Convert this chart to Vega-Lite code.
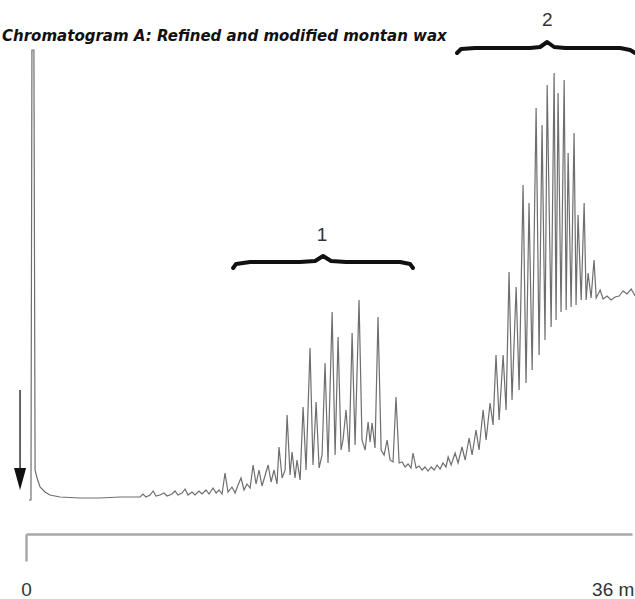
{
  "$schema": "https://vega.github.io/schema/vega-lite/v6.json",
  "autosize": {"type": "none"},
  "padding": {"left": 26, "top": 50, "right": 3, "bottom": 65},
  "width": 606,
  "height": 484,
  "background": "white",
  "config": {"view": {"stroke": null}},
  "title": {
    "text": "Chromatogram A: Refined and modified montan wax",
    "anchor": "start",
    "dx": -12,
    "dy": 42,
    "offset": 8,
    "font": "DejaVu Sans Condensed",
    "fontSize": 16.7,
    "fontStyle": "italic",
    "fontWeight": "bold",
    "color": "#111"
  },
  "datasets": {
    "trace": [
      {"t": 0.18, "r": -3}, {"t": 0.30, "r": -3}, {"t": 0.36, "r": 447}, {"t": 0.48, "r": 447},
      {"t": 0.55, "r": 27}, {"t": 0.67, "r": 19}, {"t": 0.85, "r": 10}, {"t": 1.15, "r": 5},
      {"t": 1.45, "r": 2}, {"t": 2.06, "r": 0}, {"t": 3.27, "r": -1}, {"t": 4.48, "r": -1},
      {"t": 5.70, "r": 0}, {"t": 6.91, "r": 0}, {"t": 7.09, "r": 3}, {"t": 7.27, "r": 0},
      {"t": 7.52, "r": 2}, {"t": 7.70, "r": 6}, {"t": 7.88, "r": 1}, {"t": 8.12, "r": 2},
      {"t": 8.36, "r": 4}, {"t": 8.55, "r": 1}, {"t": 8.85, "r": 3}, {"t": 9.03, "r": 6},
      {"t": 9.21, "r": 2}, {"t": 9.45, "r": 4}, {"t": 9.64, "r": 8}, {"t": 9.82, "r": 2},
      {"t": 10.06, "r": 5}, {"t": 10.24, "r": 2}, {"t": 10.48, "r": 6}, {"t": 10.67, "r": 3},
      {"t": 10.91, "r": 7}, {"t": 11.09, "r": 3}, {"t": 11.33, "r": 9}, {"t": 11.52, "r": 4},
      {"t": 11.70, "r": 7}, {"t": 11.88, "r": 3}, {"t": 12.06, "r": 24}, {"t": 12.24, "r": 5},
      {"t": 12.48, "r": 10}, {"t": 12.67, "r": 4}, {"t": 12.85, "r": 12}, {"t": 13.03, "r": 19},
      {"t": 13.21, "r": 7}, {"t": 13.39, "r": 13}, {"t": 13.58, "r": 9}, {"t": 13.76, "r": 32},
      {"t": 13.94, "r": 13}, {"t": 14.12, "r": 27}, {"t": 14.30, "r": 11}, {"t": 14.48, "r": 21},
      {"t": 14.67, "r": 32}, {"t": 14.85, "r": 15}, {"t": 15.03, "r": 27}, {"t": 15.21, "r": 13},
      {"t": 15.33, "r": 50}, {"t": 15.52, "r": 19}, {"t": 15.70, "r": 27}, {"t": 15.82, "r": 82},
      {"t": 16.00, "r": 22}, {"t": 16.12, "r": 45}, {"t": 16.30, "r": 19}, {"t": 16.42, "r": 37},
      {"t": 16.61, "r": 17}, {"t": 16.79, "r": 90}, {"t": 16.97, "r": 27}, {"t": 17.21, "r": 149},
      {"t": 17.39, "r": 32}, {"t": 17.58, "r": 95}, {"t": 17.76, "r": 29}, {"t": 17.94, "r": 42},
      {"t": 18.12, "r": 134}, {"t": 18.30, "r": 34}, {"t": 18.55, "r": 185}, {"t": 18.73, "r": 42},
      {"t": 18.91, "r": 160}, {"t": 19.09, "r": 47}, {"t": 19.21, "r": 57}, {"t": 19.39, "r": 87},
      {"t": 19.58, "r": 45}, {"t": 19.76, "r": 164}, {"t": 19.94, "r": 52}, {"t": 20.18, "r": 197},
      {"t": 20.36, "r": 57}, {"t": 20.55, "r": 47}, {"t": 20.73, "r": 75}, {"t": 20.85, "r": 55},
      {"t": 20.97, "r": 74}, {"t": 21.15, "r": 49}, {"t": 21.33, "r": 180}, {"t": 21.52, "r": 47},
      {"t": 21.70, "r": 42}, {"t": 21.88, "r": 57}, {"t": 22.06, "r": 37}, {"t": 22.24, "r": 35},
      {"t": 22.42, "r": 100}, {"t": 22.61, "r": 34}, {"t": 22.79, "r": 35}, {"t": 22.97, "r": 30},
      {"t": 23.15, "r": 33}, {"t": 23.33, "r": 29}, {"t": 23.45, "r": 44}, {"t": 23.64, "r": 29},
      {"t": 23.82, "r": 31}, {"t": 24.00, "r": 27}, {"t": 24.18, "r": 30}, {"t": 24.36, "r": 26},
      {"t": 24.55, "r": 30}, {"t": 24.73, "r": 27}, {"t": 24.91, "r": 32}, {"t": 25.09, "r": 28},
      {"t": 25.27, "r": 34}, {"t": 25.45, "r": 30}, {"t": 25.58, "r": 40}, {"t": 25.76, "r": 32},
      {"t": 26.00, "r": 44}, {"t": 26.18, "r": 34}, {"t": 26.42, "r": 50}, {"t": 26.61, "r": 37},
      {"t": 26.85, "r": 59}, {"t": 27.03, "r": 42}, {"t": 27.27, "r": 67}, {"t": 27.45, "r": 47},
      {"t": 27.70, "r": 87}, {"t": 27.88, "r": 57}, {"t": 28.12, "r": 94}, {"t": 28.30, "r": 72},
      {"t": 28.48, "r": 142}, {"t": 28.67, "r": 77}, {"t": 28.91, "r": 142}, {"t": 29.09, "r": 87},
      {"t": 29.27, "r": 225}, {"t": 29.45, "r": 97}, {"t": 29.70, "r": 210}, {"t": 29.88, "r": 107},
      {"t": 30.12, "r": 312}, {"t": 30.30, "r": 114}, {"t": 30.48, "r": 294}, {"t": 30.67, "r": 127},
      {"t": 30.91, "r": 389}, {"t": 31.09, "r": 142}, {"t": 31.27, "r": 372}, {"t": 31.45, "r": 157},
      {"t": 31.58, "r": 412}, {"t": 31.82, "r": 170}, {"t": 32.00, "r": 424}, {"t": 32.12, "r": 177},
      {"t": 32.24, "r": 404}, {"t": 32.42, "r": 185}, {"t": 32.61, "r": 417}, {"t": 32.73, "r": 187},
      {"t": 32.85, "r": 344}, {"t": 33.03, "r": 190}, {"t": 33.21, "r": 364}, {"t": 33.33, "r": 192},
      {"t": 33.45, "r": 282}, {"t": 33.64, "r": 197}, {"t": 33.82, "r": 294}, {"t": 33.94, "r": 197},
      {"t": 34.06, "r": 224}, {"t": 34.24, "r": 199}, {"t": 34.42, "r": 237}, {"t": 34.55, "r": 199},
      {"t": 34.79, "r": 207}, {"t": 34.97, "r": 198}, {"t": 35.21, "r": 201}, {"t": 35.45, "r": 197},
      {"t": 35.70, "r": 200}, {"t": 35.94, "r": 201}, {"t": 36.18, "r": 206}, {"t": 36.42, "r": 203},
      {"t": 36.67, "r": 208}, {"t": 36.91, "r": 201}
    ],
    "braces": [
      {"brace": "1", "t": 12.55, "r": 229}, {"brace": "1", "t": 12.73, "r": 233},
      {"brace": "1", "t": 13.58, "r": 235}, {"brace": "1", "t": 16.61, "r": 235},
      {"brace": "1", "t": 17.52, "r": 236}, {"brace": "1", "t": 18.00, "r": 241},
      {"brace": "1", "t": 18.48, "r": 236}, {"brace": "1", "t": 19.39, "r": 235},
      {"brace": "1", "t": 22.67, "r": 235}, {"brace": "1", "t": 23.27, "r": 233},
      {"brace": "1", "t": 23.45, "r": 229},
      {"brace": "2", "t": 26.12, "r": 444}, {"brace": "2", "t": 26.36, "r": 448},
      {"brace": "2", "t": 27.21, "r": 449}, {"brace": "2", "t": 30.55, "r": 449},
      {"brace": "2", "t": 31.15, "r": 450}, {"brace": "2", "t": 31.58, "r": 455},
      {"brace": "2", "t": 32.00, "r": 450}, {"brace": "2", "t": 32.67, "r": 449},
      {"brace": "2", "t": 36.00, "r": 449}, {"brace": "2", "t": 36.61, "r": 447},
      {"brace": "2", "t": 36.91, "r": 444}
    ],
    "labels": [
      {"label": "1", "t": 17.94, "r": 262},
      {"label": "2", "t": 31.58, "r": 477}
    ],
    "arrow": [
      {"t": -0.36, "r": 107, "r2": 29, "head": 18}
    ]
  },
  "encoding": {
    "x": {
      "field": "t",
      "type": "quantitative",
      "scale": {"domain": [0, 36.72], "nice": false, "zero": false},
      "axis": {
        "values": [0, 36],
        "title": null,
        "grid": false,
        "labelExpr": "datum.value == 0 ? '0' : '36 min'",
        "labelFont": "Liberation Sans",
        "labelFontSize": 19,
        "labelColor": "#333",
        "labelFlush": false,
        "labelPadding": 19,
        "domainColor": "#a8a8a8",
        "domainWidth": 2.5,
        "tickSize": 27,
        "tickWidth": 2.5,
        "tickColor": {"condition": {"test": "datum.value == 0", "value": "#a8a8a8"}, "value": "transparent"}
      }
    },
    "y": {
      "field": "r",
      "type": "quantitative",
      "scale": {"domain": [-37, 447], "nice": false, "zero": false},
      "axis": null
    }
  },
  "layer": [
    {
      "data": {"name": "trace"},
      "mark": {"type": "line", "color": "#6e6e6e", "strokeWidth": 1.2}
    },
    {
      "data": {"name": "braces"},
      "mark": {"type": "line", "color": "#111", "strokeWidth": 4, "strokeCap": "round", "strokeJoin": "round"},
      "encoding": {"detail": {"field": "brace"}}
    },
    {
      "data": {"name": "labels"},
      "mark": {"type": "text", "font": "Liberation Sans", "fontSize": 19, "color": "#333", "baseline": "middle"},
      "encoding": {"text": {"field": "label"}}
    },
    {
      "data": {"name": "arrow"},
      "mark": {"type": "rule", "color": "#333", "strokeWidth": 1.5},
      "encoding": {"y2": {"field": "r2"}}
    },
    {
      "data": {"name": "arrow"},
      "mark": {"type": "point", "filled": true, "color": "#111", "opacity": 1, "size": 484, "shape": "M-0.55,-1L0.55,-1L0,1Z"},
      "encoding": {"y": {"field": "head", "type": "quantitative"}}
    }
  ]
}
